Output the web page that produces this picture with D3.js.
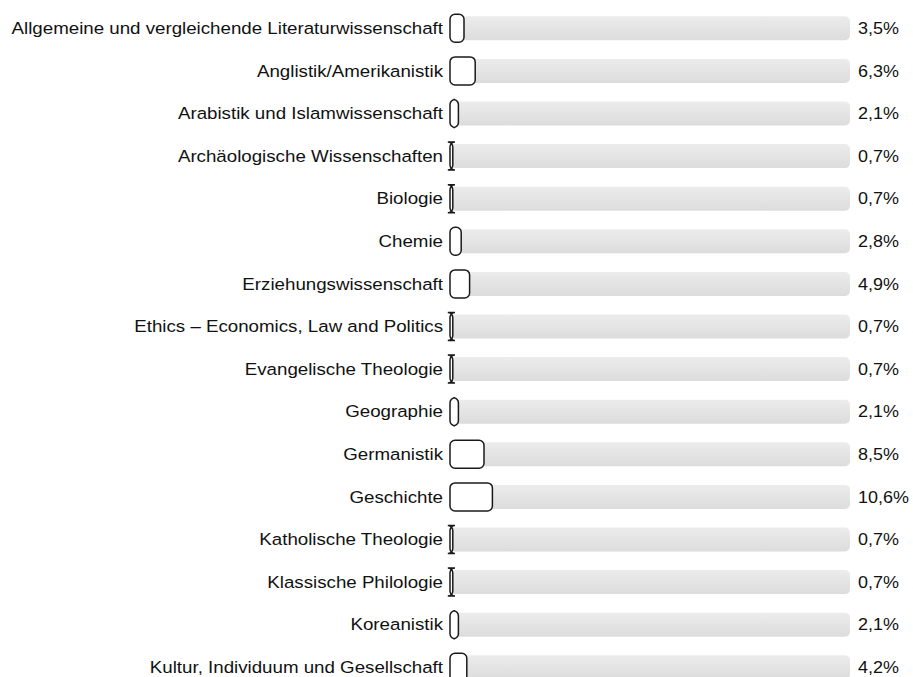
<!DOCTYPE html>
<html><head><meta charset="utf-8">
<script src="https://cdn.jsdelivr.net/npm/d3@7"></script>
<style>body{margin:0;background:#fff;overflow:hidden}text{font-family:"Liberation Sans",Arial,sans-serif}</style>
</head><body>
<svg id="c" width="913" height="677"></svg>
<script>
const categories = [
  "Allgemeine und vergleichende Literaturwissenschaft",
  "Anglistik/Amerikanistik",
  "Arabistik und Islamwissenschaft",
  "Archäologische Wissenschaften",
  "Biologie",
  "Chemie",
  "Erziehungswissenschaft",
  "Ethics – Economics, Law and Politics",
  "Evangelische Theologie",
  "Geographie",
  "Germanistik",
  "Geschichte",
  "Katholische Theologie",
  "Klassische Philologie",
  "Koreanistik",
  "Kultur, Individuum und Gesellschaft"
];
const values = [3.5, 6.3, 2.1, 0.7, 0.7, 2.8, 4.9, 0.7, 0.7, 2.1, 8.5, 10.6, 0.7, 0.7, 2.1, 4.2];
const valueLabels = ["3,5%","6,3%","2,1%","0,7%","0,7%","2,8%","4,9%","0,7%","0,7%","2,1%","8,5%","10,6%","0,7%","0,7%","2,1%","4,2%"];

const svg = d3.select("#c");
const x = d3.scaleLinear().domain([0, 100]).range([450, 850]);
const y = d3.scaleBand().domain(d3.range(categories.length)).range([7, 7 + 42.6 * categories.length]);
const trackH = 24, boxH = 28, R = 5;

const defs = svg.append("defs");
const g = defs.append("linearGradient").attr("id","tg").attr("x1",0).attr("y1",0).attr("x2",0).attr("y2",1);
g.append("stop").attr("offset","0%").attr("stop-color","#ececec");
g.append("stop").attr("offset","100%").attr("stop-color","#dcdcdc");

// rounded box path with unclamped corner radius (as in the original renderer)
function boxPath(x0, y0, w, h, r) {
  const p = d3.path();
  p.moveTo(x0 + r, y0);
  p.lineTo(x0 + w - r, y0);
  p.arcTo(x0 + w, y0, x0 + w, y0 + r, 0);
  return `M${x0 + r},${y0}H${x0 + w - r}A${r},${r} 0 0 1 ${x0 + w},${y0 + r}` +
         `V${y0 + h - r}A${r},${r} 0 0 1 ${x0 + w - r},${y0 + h}` +
         `H${x0 + r}A${r},${r} 0 0 1 ${x0},${y0 + h - r}` +
         `V${y0 + r}A${r},${r} 0 0 1 ${x0 + r},${y0}Z`;
}

const rows = svg.selectAll("g.row").data(categories).join("g").attr("class","row")
  .attr("transform", (d,i) => `translate(0,${y(i) + y.bandwidth()/2})`);

rows.append("rect")
  .attr("x", x(0)).attr("y", -trackH/2)
  .attr("width", x(100) - x(0)).attr("height", trackH)
  .attr("rx", 5).attr("fill", "url(#tg)");

rows.append("path")
  .attr("d", (d,i) => boxPath(x(0), -boxH/2, x(values[i]) - x(0), boxH, R))
  .attr("fill", "#fff").attr("stroke", "#1a1a1a").attr("stroke-width", 1.5);

rows.append("text")
  .attr("transform", "translate(443,0) scale(1.135,1)")
  .attr("dy", "0.35em")
  .attr("text-anchor", "end").attr("font-size", 16.5).attr("fill", "#111")
  .text(d => d);

rows.append("text")
  .attr("transform", "translate(858,0) scale(1.09,1)")
  .attr("dy", "0.35em")
  .attr("font-size", 16.5).attr("fill", "#111")
  .text((d,i) => valueLabels[i]);
</script>
</body></html>
